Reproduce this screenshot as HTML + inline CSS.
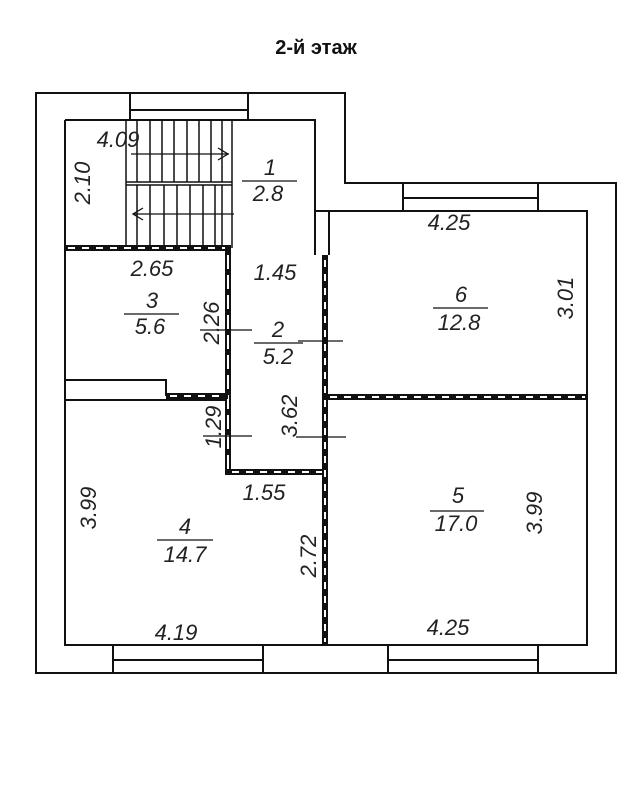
<!DOCTYPE html>
<html><head><meta charset="utf-8"><style>
html,body{margin:0;padding:0;background:#fff;}
svg{display:block;}
text{font-family:"Liberation Sans",sans-serif;font-style:italic;font-size:22px;fill:#222;}
</style></head><body>
<svg width="636" height="795" viewBox="0 0 636 795" xmlns="http://www.w3.org/2000/svg">
<text x="316" y="54" text-anchor="middle" style="font-style:normal;font-weight:bold;font-size:20px;fill:#111">2-й этаж</text>
<g fill="none" stroke="#111" stroke-width="2">
<path d="M36 93 H345 V183 H616 V673 H36 Z"/>
<path d="M65 120 H315 V211 H329 V255"/>
<path d="M315 211 V255"/>
<path d="M65 120 V645 H587 V211 H329"/>
<path d="M130 93 V120 M248 93 V120 M130 110 H248"/>
<path d="M403 183 V211 M538 183 V211 M403 198 H538"/>
<path d="M113 645 V673 M263 645 V673 M113 660 H263"/>
<path d="M388 645 V673 M538 645 V673 M388 660 H538"/>
<path d="M126 120 V248 M232 120 V248 M126 182 H232 M126 185 H232" stroke-width="1.5"/>
<path d="M137 120 V182 M150 120 V182 M162 120 V182 M174 120 V182 M187 120 V182 M199 120 V182 M211 120 V182 M222 120 V182" stroke-width="1.5"/>
<path d="M137 185 V248 M150 185 V248 M164 185 V248 M177 185 V248 M190 185 V248 M203 185 V248 M215 185 V248 M222 185 V248" stroke-width="1.5"/>
<path d="M131 154 H229 M218 148 L228 154 L218 160" stroke-width="1.3"/>
<path d="M133 214 H234 M143 208 L133 214 L143 220" stroke-width="1.3"/>
<path d="M65 380 H166 V396"/>
<path d="M65 400 H228"/>
</g>
<g>
<rect x="65" y="245" width="166" height="6" fill="#111"/>
<line x1="68" y1="248" x2="228" y2="248" stroke="#fff" stroke-width="2" stroke-dasharray="7,7"/>
<rect x="225" y="245" width="6" height="230" fill="#111"/>
<line x1="228" y1="255" x2="228" y2="470" stroke="#fff" stroke-width="2" stroke-dasharray="14,6"/>
<rect x="166" y="393" width="62" height="6" fill="#111"/>
<line x1="170" y1="396" x2="225" y2="396" stroke="#fff" stroke-width="2" stroke-dasharray="7,7"/>
<rect x="225" y="469" width="101" height="6" fill="#111"/>
<line x1="232" y1="472" x2="322" y2="472" stroke="#fff" stroke-width="2" stroke-dasharray="7,7"/>
<rect x="322" y="255" width="6" height="391" fill="#111"/>
<line x1="325" y1="260" x2="325" y2="642" stroke="#fff" stroke-width="2" stroke-dasharray="7,7"/>
<rect x="326" y="394" width="261" height="6" fill="#111"/>
<line x1="330" y1="397" x2="585" y2="397" stroke="#fff" stroke-width="2" stroke-dasharray="7,7"/>
</g>
<g stroke="#111" stroke-width="1.3">
<line x1="200" y1="330" x2="252" y2="330"/>
<line x1="298" y1="341" x2="343" y2="341"/>
<line x1="203" y1="436" x2="252" y2="436"/>
<line x1="296" y1="437" x2="346" y2="437"/>
<line x1="242" y1="181" x2="297" y2="181"/>
<line x1="124" y1="314" x2="179" y2="314"/>
<line x1="254" y1="343" x2="303" y2="343"/>
<line x1="433" y1="308" x2="488" y2="308"/>
<line x1="157" y1="540" x2="213" y2="540"/>
<line x1="430" y1="511" x2="484" y2="511"/>
</g>
<text x="118" y="147" text-anchor="middle">4.09</text>
<text x="97" y="190" text-anchor="middle" transform="rotate(-90 90 190)">2.10</text>
<text x="270" y="175" text-anchor="middle">1</text>
<text x="268" y="201" text-anchor="middle">2.8</text>
<text x="152" y="276" text-anchor="middle">2.65</text>
<text x="275" y="280" text-anchor="middle">1.45</text>
<text x="152" y="308" text-anchor="middle">3</text>
<text x="150" y="334" text-anchor="middle">5.6</text>
<text x="278" y="337" text-anchor="middle">2</text>
<text x="278" y="364" text-anchor="middle">5.2</text>
<text x="218" y="338" text-anchor="middle" transform="rotate(-90 211 330)">2.26</text>
<text x="297" y="430" text-anchor="middle" transform="rotate(-90 290 423)">3.62</text>
<text x="221" y="441" text-anchor="middle" transform="rotate(-90 214 434)">1.29</text>
<text x="264" y="500" text-anchor="middle">1.55</text>
<text x="449" y="230" text-anchor="middle">4.25</text>
<text x="461" y="302" text-anchor="middle">6</text>
<text x="459" y="330" text-anchor="middle">12.8</text>
<text x="573" y="312" text-anchor="middle" transform="rotate(-90 566 305)">3.01</text>
<text x="96" y="522" text-anchor="middle" transform="rotate(-90 89 515)">3.99</text>
<text x="185" y="534" text-anchor="middle">4</text>
<text x="185" y="562" text-anchor="middle">14.7</text>
<text x="316" y="570" text-anchor="middle" transform="rotate(-90 309 563)">2.72</text>
<text x="176" y="640" text-anchor="middle">4.19</text>
<text x="458" y="503" text-anchor="middle">5</text>
<text x="456" y="531" text-anchor="middle">17.0</text>
<text x="542" y="527" text-anchor="middle" transform="rotate(-90 535 520)">3.99</text>
<text x="448" y="635" text-anchor="middle">4.25</text>
</svg>
</body></html>
